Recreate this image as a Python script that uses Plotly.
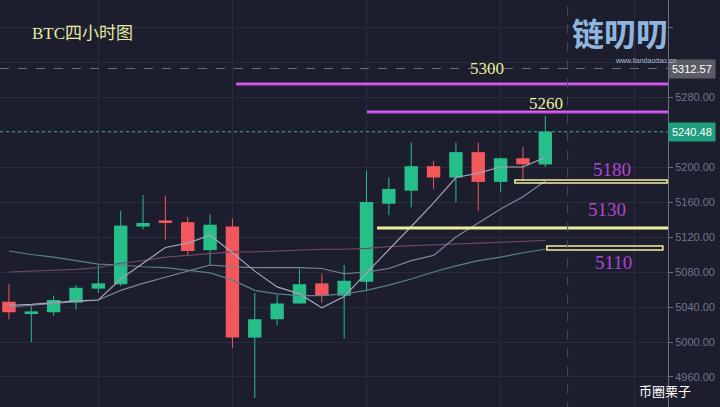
import plotly.graph_objects as go

# candles (4h)
opens = [5046, 5033, 5034, 5045, 5061, 5066, 5132, 5139, 5137, 5105, 5132, 5005, 5026,
         5044, 5067, 5053, 5069, 5158, 5173, 5201, 5188, 5217, 5183, 5210, 5203]
closes = [5034, 5035, 5048, 5062, 5067, 5133, 5136, 5136, 5104, 5134, 5005, 5026, 5044,
          5066, 5053, 5070, 5160, 5175, 5201, 5188, 5217, 5183, 5210, 5203, 5240.48]
highs = [5066, 5041, 5053, 5065, 5088, 5150, 5168, 5167, 5143, 5146, 5141, 5056, 5054,
         5083, 5078, 5088, 5196, 5188, 5228, 5207, 5228, 5228, 5211, 5223, 5258]
lows = [5026, 5000, 5030, 5037, 5056, 5064, 5129, 5117, 5098, 5088, 4993, 4936, 5019,
        5044, 5045, 5004, 5059, 5145, 5154, 5175, 5160, 5150, 5172, 5185, 5200]

# moving averages
ma5 = [5042, 5043, 5045, 5047, 5048, 5072, 5090, 5108, 5113, 5122, 5102, 5081, 5063,
       5055, 5039, 5052, 5079, 5105, 5132, 5159, 5188, 5193, 5200, 5200, 5211]
ma10 = [5040, 5042, 5044, 5046, 5048, 5059, 5067, 5074, 5081, 5088, 5086, 5085, 5085,
        5085, 5084, 5078, 5080, 5084, 5093, 5099, 5120, 5136, 5152, 5166, 5184]
ma30 = [5104, 5100, 5097, 5093, 5089, 5088, 5086, 5085, 5082, 5079, 5071, 5059, 5055,
        5053, 5053, 5055, 5059, 5065, 5072, 5080, 5087, 5093, 5097, 5102, 5106]
ma60 = [5080, 5081, 5082, 5083, 5085, 5090, 5093, 5097, 5099, 5101, 5103, 5103, 5104,
        5105, 5106, 5106, 5107, 5109, 5110, 5111, 5112, 5113, 5114, 5115, 5116]

# levels drawn on the chart and their labels
level_lines = [5295, 5263]          # magenta resistance lines
level_line_labels = ["5300", "5260"]
support_boxes = [(5181.7, 5185.1), (5105.1, 5109.7)]
support_line = 5130.3
support_labels = ["5180", "5130", "5110"]
last_price = 5240.48
cross_price = 5312.57

y_ticks = [4960, 5000, 5040, 5080, 5120, 5160, 5200, 5240, 5280, 5320, 5360]

BG = "#1c1e2e"
UP = "#26bf8a"
DOWN = "#f2575b"

idx = list(range(len(opens)))
X0, X1 = -0.40, 29.49

fig = go.Figure()

# wicks
for color, cond in ((UP, lambda o, c: c >= o), (DOWN, lambda o, c: c < o)):
    wx, wy = [], []
    for i in idx:
        if cond(opens[i], closes[i]):
            wx += [i, i, None]
            wy += [lows[i], highs[i], None]
    fig.add_trace(go.Scatter(x=wx, y=wy, mode="lines", line=dict(color=color, width=1),
                             hoverinfo="skip", showlegend=False))

# moving averages
for vals, color in ((ma60, "#6e4767"), (ma30, "#5d7f86"), (ma10, "#80849a"), (ma5, "#a3a5b8")):
    fig.add_trace(go.Scatter(x=idx, y=vals, mode="lines", line=dict(color=color, width=1.2),
                             hoverinfo="skip", showlegend=False))

# bodies
fig.add_trace(go.Bar(
    x=idx,
    y=[max(abs(c - o), 0.8) for o, c in zip(opens, closes)],
    base=[min(o, c) for o, c in zip(opens, closes)],
    width=0.6,
    marker=dict(color=[UP if c >= o else DOWN for o, c in zip(opens, closes)], line_width=0),
    showlegend=False,
))

# magenta resistance lines
for y, xs in zip(level_lines, (10.16, 16.02)):
    fig.add_shape(type="line", x0=xs, x1=X1, y0=y, y1=y, line=dict(color="#a02fc0", width=3.5))
    fig.add_shape(type="line", x0=xs, x1=X1, y0=y, y1=y, line=dict(color="#e39af3", width=1))

# yellow supports
for (y0, y1), xs, xe in zip(support_boxes, (22.64, 24.07), (29.45, 29.26)):
    fig.add_shape(type="rect", x0=xs, x1=xe, y0=y0, y1=y1,
                  line=dict(color="#f0f0a8", width=1.5), fillcolor="rgba(0,0,0,0)")
fig.add_shape(type="line", x0=16.47, x1=X1, y0=support_line, y1=support_line,
              line=dict(color="#eeee9c", width=3))

# last price and crosshair
fig.add_shape(type="line", x0=X0, x1=X1, y0=last_price, y1=last_price,
              line=dict(color="#2aa586", width=1, dash="dot"))
fig.add_shape(type="line", x0=X0, x1=X1, y0=cross_price, y1=cross_price,
              line=dict(color="#6b6f80", width=1, dash="dash"))
fig.add_shape(type="line", x0=25, x1=25, y0=4900, y1=5400,
              line=dict(color="#4b4f60", width=1, dash="dash"))

serif = "Liberation Serif, Noto Sans CJK SC, serif"
ann = []
for txt, x, y in zip(level_line_labels, (21.39, 24.03), (5313, 5273)):
    ann.append(dict(text=txt, x=x, y=y, xref="x", yref="y", showarrow=False,
                    font=dict(family=serif, size=17, color="#ecec9e")))
for txt, x, y in zip(support_labels, (26.98, 26.76, 27.07), (5197, 5152, 5091)):
    ann.append(dict(text=txt, x=x, y=y, xref="x", yref="y", showarrow=False,
                    font=dict(family=serif, size=19, color="#b245cf")))

ann += [
    dict(text="BTC四小时图", x=30 / 668, y=1 - 33 / 407, xref="paper", yref="paper",
         xanchor="left", yanchor="middle", showarrow=False,
         font=dict(family=serif, size=17, color="#e8e8a4")),
    dict(text=f"{last_price:.2f}", x=1, y=last_price, xref="paper", yref="y",
         xanchor="left", yanchor="middle", showarrow=False, bgcolor="#1e9e7c", borderpad=3,
         font=dict(family="Liberation Sans, Arial", size=11, color="white")),
    dict(text=f"{cross_price:.2f}", x=1, y=cross_price, xref="paper", yref="y",
         xanchor="left", yanchor="middle", showarrow=False, bgcolor="#5a5d66", borderpad=3,
         font=dict(family="Liberation Sans, Arial", size=11, color="white")),
    dict(text="<b>链叨叨</b>", x=620 / 668, y=1 - 32 / 407, xref="paper", yref="paper",
         xanchor="center", yanchor="middle", showarrow=False,
         font=dict(family="Noto Sans CJK SC", size=32, color="#8fb6de")),
    dict(text="www.liandaodao.cn", x=645 / 668, y=1 - 60 / 407, xref="paper", yref="paper",
         xanchor="center", yanchor="middle", showarrow=False,
         font=dict(family="Liberation Sans", size=7, color="#a9bfd6")),
    dict(text="币圈栗子", x=665 / 668, y=1 - 390 / 407, xref="paper", yref="paper",
         xanchor="center", yanchor="middle", showarrow=False,
         font=dict(family="Noto Sans CJK SC", size=13, color="white")),
]

fig.update_layout(
    width=720, height=407,
    margin=dict(l=0, r=52, t=0, b=0),
    paper_bgcolor=BG, plot_bgcolor=BG,
    showlegend=False,
    annotations=ann,
    xaxis=dict(range=[X0, X1], tickvals=[4, 10, 16, 22, 28], showticklabels=False,
               showgrid=True, gridcolor="#292c3d", zeroline=False, fixedrange=True),
    yaxis=dict(range=[4925.7, 5390.9], side="right", tickvals=y_ticks,
               # 5240 is covered by the last-price tag, 5320/5360 by the crosshair tag and logo
               ticktext=[f"{v:.2f}" if v <= 5280 and v != 5240 else "" for v in y_ticks],
               showgrid=True, gridcolor="#292c3d", zeroline=False,
               showline=True, linecolor="#6c7082", linewidth=1,
               ticks="outside", ticklen=4, tickcolor="#6c7082",
               tickfont=dict(family="Liberation Sans, Arial", size=11, color="#70758a")),
)

# the page's default body margin would shift the chart by 8px
fig.write_html("out.html", config={"displayModeBar": False},
               post_script="document.body.style.margin='0';"
                           "document.body.style.background='%s';" % BG)
